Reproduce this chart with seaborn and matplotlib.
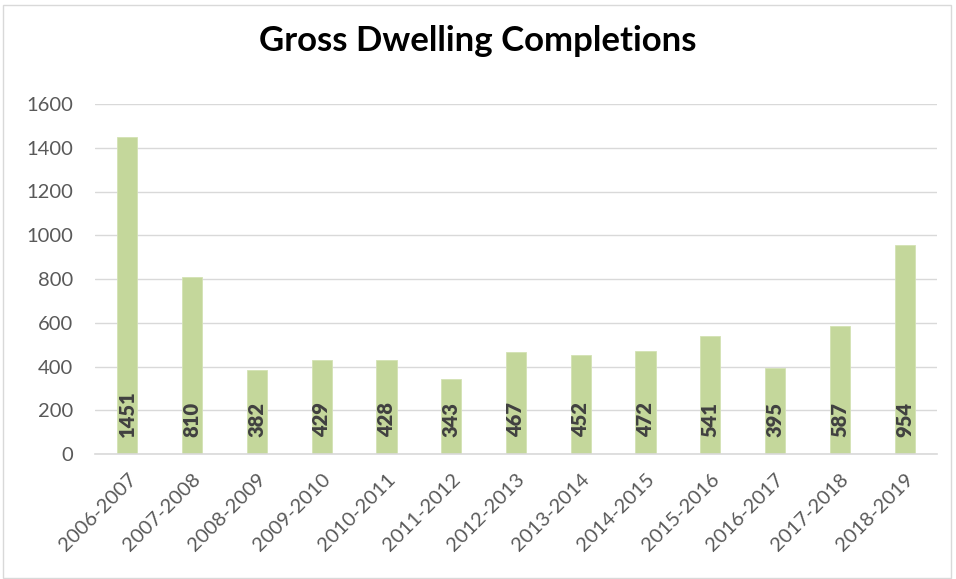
import matplotlib
matplotlib.use("Agg")
import matplotlib.pyplot as plt
import seaborn as sns
import pandas as pd
from matplotlib.patches import Rectangle

periods = ["2006-2007", "2007-2008", "2008-2009", "2009-2010", "2010-2011",
           "2011-2012", "2012-2013", "2013-2014", "2014-2015", "2015-2016",
           "2016-2017", "2017-2018", "2018-2019"]
completions = [1451, 810, 382, 429, 428, 343, 467, 452, 472, 541, 395, 587, 954]
yticks = [0, 200, 400, 600, 800, 1000, 1200, 1400, 1600]

df = pd.DataFrame({"period": periods, "completions": completions})

sns.set_theme(style="white")
plt.rcParams['font.family'] = ['Lato', 'DejaVu Sans']

fig = plt.figure(figsize=(9.56, 5.79), dpi=100)
ax = fig.add_axes([95/956, 1-454/579, (937-95)/956, (454-104)/579])

sns.barplot(data=df, x="period", y="completions", color="#c4d79b",
            saturation=1, width=0.31, ax=ax, edgecolor="#d3e2b4", linewidth=0.6)

ax.set_ylim(0, 1600)
ax.set_xlim(-0.5, len(periods) - 0.5)
ax.set_yticks(yticks)
ax.set_yticklabels([str(v) for v in yticks], color="#595959", fontsize=14.5)
ax.set_xticks(range(len(periods)))
ax.set_xticklabels(periods, rotation=45, ha="right", rotation_mode="anchor",
                   color="#595959", fontsize=14.5)
ax.tick_params(axis="y", length=0, pad=16)
ax.tick_params(axis="x", length=0, pad=12)
ax.set_xlabel("")
ax.set_ylabel("")
ax.grid(axis="y", color="#d9d9d9", linewidth=1)
ax.set_axisbelow(True)
for s in ["top", "right", "left"]:
    ax.spines[s].set_visible(False)
ax.spines["bottom"].set_color("#d9d9d9")
ax.spines["bottom"].set_linewidth(1.2)

for i, v in enumerate(completions):
    ax.annotate(str(v), xy=(i, 0), xytext=(0, 12), textcoords="offset points",
                rotation=90, ha="center", va="bottom", fontsize=14.5,
                fontweight="heavy", color="#404040")

fig.text(0.5, 1-51/579, "Gross Dwelling Completions", ha="center", va="baseline",
         fontsize=25, fontweight="bold", color="black")

fig.patches.append(Rectangle((3/956, 0.002), (951-3)/956, 1-5/579-0.002,
                             transform=fig.transFigure, fill=False,
                             edgecolor="#d9d9d9", linewidth=1))

fig.savefig("out.png", dpi=100)
